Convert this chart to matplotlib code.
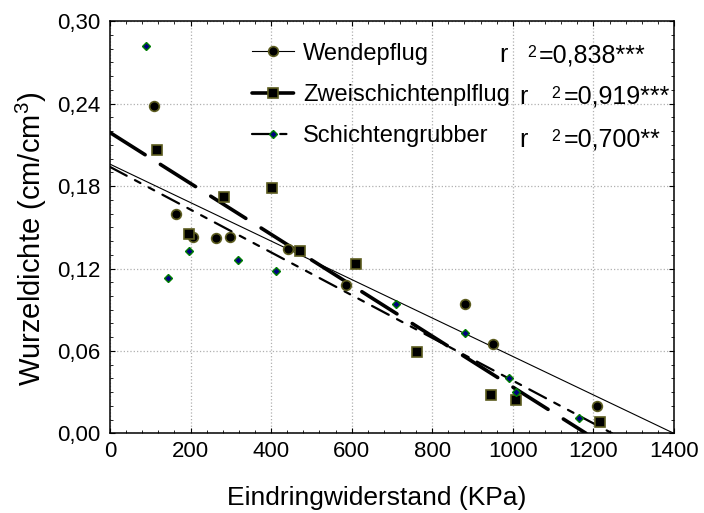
import matplotlib
matplotlib.use("Agg")
import matplotlib.pyplot as plt
import numpy as np
from matplotlib.ticker import MultipleLocator, FuncFormatter
from matplotlib.lines import Line2D

plt.rcParams['font.family'] = ['Liberation Sans', 'DejaVu Sans']
plt.rcParams['mathtext.fontset'] = 'custom'
plt.rcParams['mathtext.rm'] = 'Liberation Sans'
plt.rcParams['mathtext.it'] = 'Liberation Sans'

wende_x = [109, 164, 206, 263, 297, 442, 587, 881, 950, 1208]
wende_y = [0.238, 0.160, 0.143, 0.142, 0.143, 0.134, 0.108, 0.094, 0.065, 0.020]
zwei_x = [116, 197, 283, 403, 471, 610, 762, 947, 1009, 1216]
zwei_y = [0.206, 0.145, 0.172, 0.179, 0.133, 0.123, 0.059, 0.028, 0.024, 0.008]
schicht_x = [89, 145, 196, 318, 412, 710, 881, 991, 1009, 1165]
schicht_y = [0.282, 0.113, 0.133, 0.126, 0.118, 0.094, 0.073, 0.040, 0.030, 0.011]

# Regressionsgeraden: Achsenabschnitt und Steigung
namen = ["Wendepflug", "Zweischichtenplflug", "Schichtengrubber"]
achsenabschnitt = [0.196, 0.219, 0.194]
steigung = [-1.40e-4, -1.853e-4, -1.556e-4]
r2_werte = ["=0,838***", "=0,919***", "=0,700**"]

fig = plt.figure(figsize=(7.04, 5.13), dpi=100)
ax = fig.add_axes([0.15625, 0.1552, 0.8011, 0.8033])

linien_stil = [
    dict(color="black", lw=0.8, ls="-"),
    dict(color="black", lw=2.6, ls=(0, (11.5, 5.0))),
    dict(color="black", lw=1.6, ls=(0, (8.5, 4.2, 2.8, 4.2, 2.8, 4.2))),
]
marker_stil = [
    dict(marker="o", ms=7, mfc="black", mec="#5c5c1f", mew=1.2),
    dict(marker="s", ms=7, mfc="black", mec="#5c5c1f", mew=1.2),
    dict(marker="D", ms=3.8, mfc="#000080", mec="#008000", mew=1.0),
]
daten = [(wende_x, wende_y), (zwei_x, zwei_y), (schicht_x, schicht_y)]

handles = []
for i in range(3):
    a, b = achsenabschnitt[i], steigung[i]
    x_end = min(1400, -a / b)
    xs = np.linspace(0, x_end, 50)
    ax.plot(xs, a + b * xs, zorder=2, dash_capstyle="round", **linien_stil[i])
    ax.plot(daten[i][0], daten[i][1], ls="none", zorder=3, **marker_stil[i])
    handles.append(Line2D([], [], dash_capstyle="round", **linien_stil[i], **marker_stil[i]))

ax.set_xlim(0, 1400)
ax.set_ylim(0, 0.30)
ax.xaxis.set_major_locator(MultipleLocator(200))
ax.xaxis.set_minor_locator(MultipleLocator(40))
ax.yaxis.set_major_locator(MultipleLocator(0.06))
ax.yaxis.set_minor_locator(MultipleLocator(0.01))
ax.yaxis.set_major_formatter(FuncFormatter(lambda v, p: f"{v:.2f}".replace(".", ",")))

ax.tick_params(which="both", direction="in", top=True, right=True, labelsize=16)
ax.tick_params(axis="x", which="major", length=3.5, pad=5.5)
ax.tick_params(axis="y", which="major", length=3.5, pad=7)
ax.tick_params(which="minor", length=2.2)
ax.grid(True, which="major", ls=":", color="#b0b0b0", lw=0.9)
for s in ax.spines.values():
    s.set_linewidth(1.1)

ax.set_xlabel("Eindringwiderstand (KPa)", fontsize=19)
ax.set_ylabel("Wurzeldichte (cm/cm$^3$)", fontsize=21)
ax.xaxis.set_label_coords(0.472, -0.127)
ax.yaxis.set_label_coords(-0.108, 0.472)

ax.legend(handles, namen, loc="upper left", bbox_to_anchor=(0.252, 0.948),
          frameon=False, fontsize=17, handlelength=1.78, handletextpad=0.38,
          labelspacing=0.82, borderpad=0, borderaxespad=0, numpoints=1)

# r² Angaben
r_x = [0.690, 0.725, 0.725]
hoch_x = [0.740, 0.783, 0.783]
wert_x = [0.761, 0.805, 0.805]
basis_y = [0.901, 0.800, 0.696]
for i in range(3):
    ax.text(r_x[i], basis_y[i], "r", transform=ax.transAxes, fontsize=18, va="baseline")
    ax.text(hoch_x[i], basis_y[i] + 0.013, "2", transform=ax.transAxes, fontsize=11.5, va="baseline")
    ax.text(wert_x[i], basis_y[i], r2_werte[i], transform=ax.transAxes, fontsize=18, va="baseline")

fig.savefig("out.png", dpi=100)
